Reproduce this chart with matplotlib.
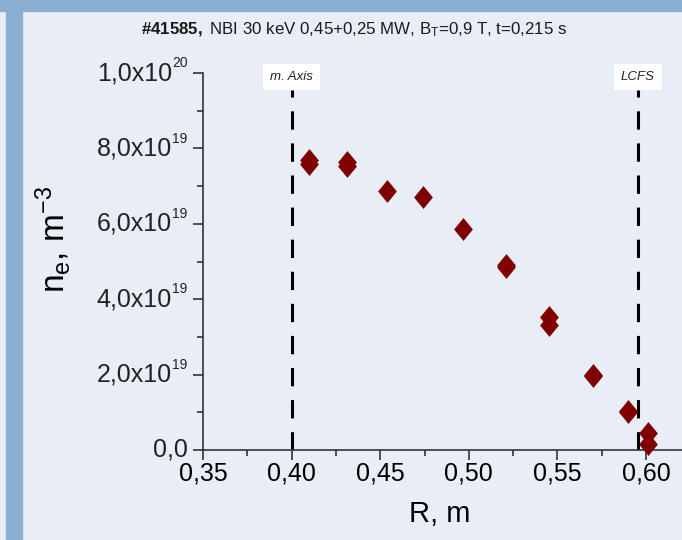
import numpy as np
import matplotlib
matplotlib.use("Agg")
import matplotlib.pyplot as plt
from matplotlib.patches import Rectangle
from matplotlib.ticker import MultipleLocator, FuncFormatter
from matplotlib.transforms import offset_copy

plt.rcParams['font.family'] = ['Liberation Sans', 'DejaVu Sans']
plt.rcParams['mathtext.fontset'] = 'custom'
plt.rcParams['mathtext.rm'] = 'Liberation Sans'
plt.rcParams['mathtext.it'] = 'Liberation Sans:italic'
plt.rcParams['mathtext.bf'] = 'Liberation Sans:bold'
plt.rcParams['mathtext.default'] = 'regular'

# measured points (R in m, n_e in 1e19 m^-3)
R = [0.410, 0.410, 0.431, 0.431, 0.454, 0.474, 0.497, 0.521, 0.521,
     0.545, 0.545, 0.570, 0.570, 0.590, 0.590, 0.601, 0.601]
ne = [7.68, 7.58, 7.64, 7.54, 6.88, 6.72, 5.85, 4.92, 4.85,
      3.54, 3.31, 2.00, 1.95, 1.04, 1.00, 0.45, 0.17]
markers_x = [0.40, 0.5955]
markers_lbl = ["m. Axis", "LCFS"]
yticks = [0, 2e19, 4e19, 6e19, 8e19, 1e20]
title_rest = " NBI 30 keV 0,45+0,25 MW, B$_T$=0,9 T, t=0,215 s"

BG = "#e9eef6"
BAND = "#8bafd0"
W, H = 682, 540

fig = plt.figure(figsize=(W / 100, H / 100), dpi=100, facecolor=BG)
fig.patches.append(Rectangle((0, 1 - 11 / H), 1, 11 / H, transform=fig.transFigure,
                             color=BAND, zorder=0))
fig.patches.append(Rectangle((6 / W, 0), 16 / W, 1, transform=fig.transFigure,
                             color=BAND, zorder=0))

ax = fig.add_axes([203 / W, 90 / H, 1 - 203 / W, 377 / H])
ax.set_facecolor(BG)
ax.set_xlim(0.35, 0.35 + 479 / 1772)
ax.set_ylim(0, 1.0e20)
for s in ("top", "right"):
    ax.spines[s].set_visible(False)
for s in ("left", "bottom"):
    ax.spines[s].set_color("#333333")
    ax.spines[s].set_linewidth(1.2)

ax.xaxis.set_major_locator(MultipleLocator(0.05))
ax.xaxis.set_minor_locator(MultipleLocator(0.025))
ax.set_yticks(yticks)
ax.yaxis.set_minor_locator(MultipleLocator(1e19))
ax.xaxis.set_major_formatter(FuncFormatter(lambda v, p: f"{v:.2f}".replace(".", ",")))
ax.tick_params(which="major", direction="out", length=7, width=1.2, color="#333333",
               labelsize=18, pad=1)
ax.tick_params(which="minor", direction="out", length=4, width=1.2, color="#333333")
ax.tick_params(axis="y", labelleft=False)

# y tick labels drawn by hand so the exponent can be small
ytr = ax.get_yaxis_transform()
for v in yticks:
    if v == 0:
        ax.text(-15 / 479, v, "0,0", transform=ytr, ha="right", va="center",
                fontsize=18, color="#222222")
        continue
    e = int(np.floor(np.log10(v) + 1e-9))
    m = f"{v / 10 ** e:.1f}".replace(".", ",")
    ax.text(-31 / 479, v, m + "x10", transform=ytr, ha="right", va="center",
            fontsize=18, color="#222222")
    ax.text(-31 / 479, v, str(e), ha="left", va="center", fontsize=10, color="#222222",
            transform=offset_copy(ytr, fig=fig, x=0, y=7, units="points"))

d = np.array([[0, -1], [0.82, 0], [0, 1], [-0.82, 0]])
ax.plot(R, np.array(ne) * 1e19, ls="none", marker=d, ms=16.5, mew=0,
        color="#800000", zorder=3, clip_on=False)

for x, lbl in zip(markers_x, markers_lbl):
    ln, = ax.plot([x, x], [0, 0.955e20], color="black", lw=2.2, zorder=2)
    ln.set_dashes([6, 4.5])
    ax.text(x, 0.99e20, lbl, ha="center", va="center", fontsize=9.5, style="italic",
            color="#222222", bbox=dict(facecolor="white", edgecolor="none", pad=5))

fig.text(354 / W, 1 - 30 / H, "$\\mathbf{\\#41585,}$" + title_rest, ha="center",
         va="center", fontsize=12.2, color="#1a1a1a")
fig.text(53 / W, 1 - 240 / H, "n$_e$, m$^{-3}$", rotation=90, ha="center",
         va="center", fontsize=24)
fig.text(440 / W, 1 - 514 / H, "R, m", ha="center", va="center", fontsize=21)

fig.savefig("out.png", dpi=100, facecolor=BG)
